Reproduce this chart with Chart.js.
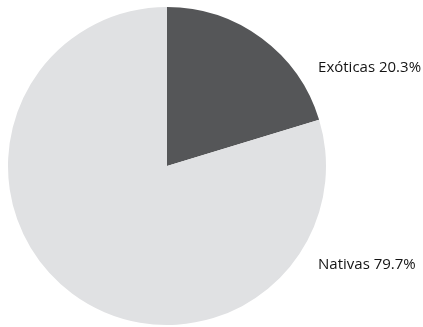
<!DOCTYPE html>
<html>
<head>
<meta charset="utf-8">
<script src="https://cdn.jsdelivr.net/npm/chart.js@4"></script>
<style>
  html, body { margin: 0; padding: 0; background: #fff; }
  #wrap { width: 423px; height: 327px; }
</style>
</head>
<body>
<div id="wrap"><canvas id="pie"></canvas></div>
<script>
const categories = ['Exóticas', 'Nativas'];
const shares = [20.3, 79.7];
const colors = ['#555658', '#e0e1e3'];

// labels sit to the right of the pie, above and below centre
const sideLabels = {
  id: 'sideLabels',
  afterDraw(chart) {
    const arcs = chart.getDatasetMeta(0).data;
    if (!arcs.length) return;
    const { x, y, outerRadius: r } = arcs[0];
    const ctx = chart.ctx;
    ctx.save();
    ctx.font = '15px "Open Sans", sans-serif';
    ctx.fillStyle = '#141414';
    ctx.textBaseline = 'middle';
    ctx.textAlign = 'left';
    const offsets = [-0.62, 0.62];
    categories.forEach((c, i) => {
      ctx.fillText(c + ' ' + shares[i].toFixed(1) + '%', x + r * 0.95, y + r * offsets[i]);
    });
    ctx.restore();
  }
};

new Chart(document.getElementById('pie'), {
  type: 'pie',
  data: {
    labels: categories,
    datasets: [{
      data: shares,
      backgroundColor: colors,
      borderWidth: 0
    }]
  },
  options: {
    responsive: true,
    maintainAspectRatio: false,
    animation: false,
    layout: { padding: { top: 7, bottom: 2, left: 8, right: 97 } },
    plugins: {
      legend: { display: false },
      tooltip: { enabled: false }
    }
  },
  plugins: [sideLabels]
});
</script>
</body>
</html>
